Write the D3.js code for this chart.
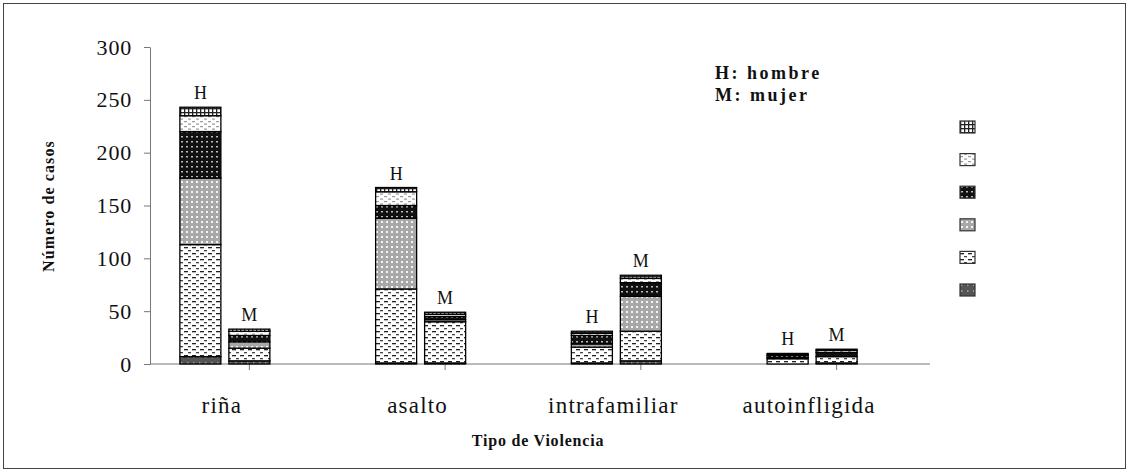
<!DOCTYPE html>
<html>
<head>
<meta charset="utf-8">
<script src="https://cdn.jsdelivr.net/npm/d3@7"></script>
<style>
  body { margin: 0; background: #fff; }
  svg { display: block; font-family: "Liberation Serif", "Times New Roman", serif; }
</style>
</head>
<body>
<div id="chart"></div>
<script>
// categories and sexes
const categories = ['riña', 'asalto', 'intrafamiliar', 'autoinfligida'];
const sexes = ['H', 'M'];
const yTicks = [0, 50, 100, 150, 200, 250, 300];

// series values, bottom of stack first; order per category: [H, M]
const serie6 = [[7, 3], [1, 1], [1, 3], [0, 1]];
const serie5 = [[106, 12], [70, 39], [15, 28], [5, 6]];
const serie4 = [[63, 6], [67, 2], [3, 33], [1, 0]];
const serie3 = [[44, 6], [12, 3], [8, 13], [2, 4]];
const serie2 = [[15, 4], [13, 2], [2, 4], [1, 2]];
const serie1 = [[8, 2], [4, 2], [2, 3], [1, 1]];

const seriesNames = ['s1', 's2', 's3', 's4', 's5', 's6'];   // legend order (top first)
const stackOrder = ['s6', 's5', 's4', 's3', 's2', 's1'];
const seriesData = { s1: serie1, s2: serie2, s3: serie3, s4: serie4, s5: serie5, s6: serie6 };

const W = 1129, H = 472;
const svg = d3.select('#chart').append('svg').attr('width', W).attr('height', H);

// patterns
const defs = svg.append('defs');
function pattern(id, w, h, bg, draw) {
  const p = defs.append('pattern').attr('id', id).attr('patternUnits', 'userSpaceOnUse')
    .attr('width', w).attr('height', h);
  p.append('rect').attr('width', w).attr('height', h).attr('fill', bg);
  draw(p);
}
// s1: grid
pattern('p-s1', 4, 4, '#fff', p => {
  p.append('rect').attr('x', 0).attr('y', 0).attr('width', 4).attr('height', 1.3).attr('fill', '#222');
  p.append('rect').attr('x', 0).attr('y', 0).attr('width', 1.3).attr('height', 4).attr('fill', '#222');
});
// s2: light dotted
pattern('p-s2', 8, 5, '#fff', p => {
  p.append('rect').attr('x', 0).attr('y', 1).attr('width', 3).attr('height', 1.2).attr('fill', '#999');
  p.append('rect').attr('x', 4).attr('y', 3.5).attr('width', 3).attr('height', 1.2).attr('fill', '#999');
});
// s3: black with white dots
pattern('p-s3', 5, 5, '#111', p => {
  p.append('rect').attr('x', 1).attr('y', 1).attr('width', 2).attr('height', 1.5).attr('fill', '#bbb');
});
// s4: grey with white dots
pattern('p-s4', 5, 5, '#a8a8a8', p => {
  p.append('rect').attr('x', 1).attr('y', 1).attr('width', 2).attr('height', 2).attr('fill', '#f4f4f4');
});
// s5: white with dashes
pattern('p-s5', 8, 6, '#fff', p => {
  p.append('rect').attr('x', 0).attr('y', 1).attr('width', 4).attr('height', 1.3).attr('fill', '#222');
  p.append('rect').attr('x', 4).attr('y', 4).attr('width', 3).attr('height', 1.3).attr('fill', '#444');
});
// s6: dark grey
pattern('p-s6', 6, 6, '#555', p => {
  p.append('rect').attr('x', 1).attr('y', 2).attr('width', 1.5).attr('height', 2).attr('fill', '#999');
});

// outer frame
svg.append('rect').attr('x', 3.5).attr('y', 3.5).attr('width', W - 7).attr('height', H - 7)
  .attr('fill', 'none').attr('stroke', '#444').attr('stroke-width', 1);

// scales
const x = d3.scaleBand().domain(categories).range([127, 910]);
const xIn = d3.scaleBand().domain(sexes)
  .range([x.bandwidth() / 2 - 45, x.bandwidth() / 2 + 45]).paddingInner(0.163);
const y = d3.scaleLinear().domain([0, 300]).range([364, 47]);

// stacked data
const rows = [];
categories.forEach((c, ci) => {
  sexes.forEach((s, si) => {
    let acc = 0;
    stackOrder.forEach(k => {
      const v = seriesData[k][ci][si];
      rows.push({ cat: c, sex: s, key: k, y0: acc, y1: acc + v });
      acc += v;
    });
  });
});

// y axis
const yAxis = svg.append('g').attr('transform', 'translate(150,0)')
  .call(d3.axisLeft(y).tickValues(yTicks).tickSize(6).tickSizeOuter(0).tickPadding(12));
yAxis.select('.domain').attr('stroke', '#777');
yAxis.selectAll('.tick line').attr('stroke', '#777');
yAxis.selectAll('.tick text').attr('font-size', 22).attr('fill', '#111')
  .attr('letter-spacing', 0.8).attr('font-family', '"Liberation Serif", serif');

// x axis line and ticks
svg.append('line').attr('x1', 150).attr('x2', 930).attr('y1', y(0)).attr('y2', y(0))
  .attr('stroke', '#777');
svg.selectAll('.xtick').data(categories).enter().append('line')
  .attr('x1', d => x(d) + xIn('M') + xIn.bandwidth() / 2)
  .attr('x2', d => x(d) + xIn('M') + xIn.bandwidth() / 2)
  .attr('y1', y(0)).attr('y2', y(0) + 6).attr('stroke', '#777');

// bars
svg.append('g').selectAll('rect').data(rows.filter(d => d.y1 > d.y0)).enter().append('rect')
  .attr('x', d => x(d.cat) + xIn(d.sex))
  .attr('y', d => y(d.y1))
  .attr('width', xIn.bandwidth())
  .attr('height', d => y(d.y0) - y(d.y1))
  .attr('fill', d => `url(#p-${d.key})`)
  .attr('stroke', '#000').attr('stroke-width', 1.3);

// H / M labels
const totals = [];
categories.forEach((c, ci) => sexes.forEach((s, si) => {
  totals.push({ cat: c, sex: s, total: d3.sum(stackOrder, k => seriesData[k][ci][si]) });
}));
svg.selectAll('.hm').data(totals).enter().append('text')
  .attr('x', d => x(d.cat) + xIn(d.sex) + xIn.bandwidth() / 2)
  .attr('y', d => y(d.total) - 8)
  .attr('text-anchor', 'middle').attr('font-size', 18).attr('fill', '#111')
  .text(d => d.sex);

// category labels
svg.selectAll('.cat').data(categories).enter().append('text')
  .attr('x', d => x(d) + x.bandwidth() / 2 - 3)
  .attr('y', 413).attr('text-anchor', 'middle').attr('font-size', 23).attr('fill', '#111')
  .attr('letter-spacing', 1.2)
  .text(d => d);

// axis titles
svg.append('text').attr('x', 538).attr('y', 446).attr('text-anchor', 'middle')
  .attr('font-size', 16).attr('font-weight', 'bold').attr('fill', '#111')
  .attr('letter-spacing', 0.8).text('Tipo de Violencia');
svg.append('text').attr('transform', 'translate(54,206) rotate(-90)').attr('text-anchor', 'middle')
  .attr('font-size', 16).attr('font-weight', 'bold').attr('fill', '#111')
  .attr('letter-spacing', 1.1).text('Número de casos');

// note
svg.append('text').attr('x', 715).attr('y', 79).attr('font-size', 18).attr('font-weight', 'bold')
  .attr('fill', '#111').attr('letter-spacing', 2.5).text('H: hombre');
svg.append('text').attr('x', 715).attr('y', 101).attr('font-size', 18).attr('font-weight', 'bold')
  .attr('fill', '#111').attr('letter-spacing', 2.5).text('M: mujer');

// legend (patterns only)
const ly = d3.scalePoint().domain(seriesNames).range([127, 290]);
svg.selectAll('.leg').data(seriesNames).enter().append('rect')
  .attr('x', 960).attr('y', d => ly(d) - 6)
  .attr('width', 15).attr('height', 12)
  .attr('fill', d => `url(#p-${d})`).attr('stroke', '#333').attr('stroke-width', 1.2);
</script>
</body>
</html>
